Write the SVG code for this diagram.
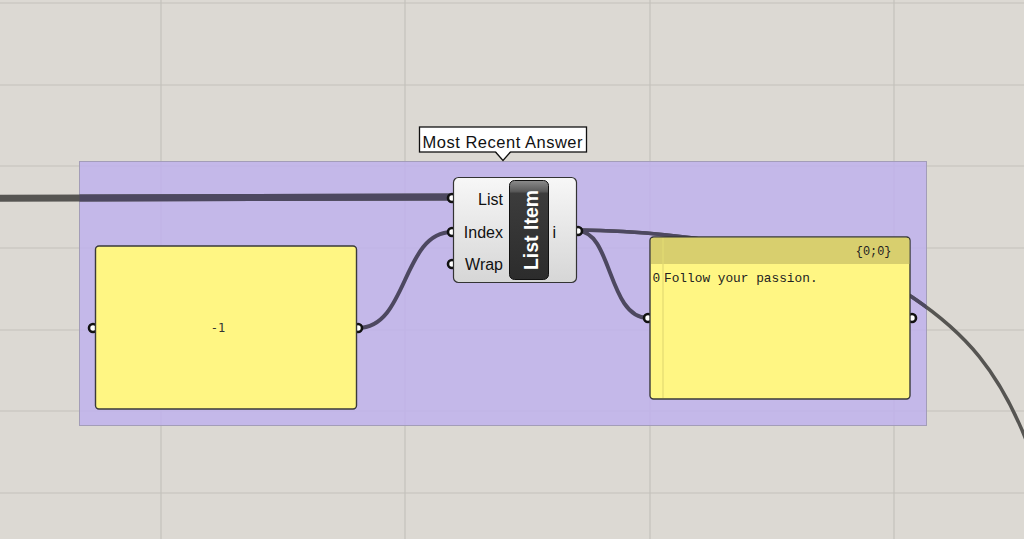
<svg xmlns="http://www.w3.org/2000/svg" width="1024" height="539" viewBox="0 0 1024 539">
<style>
.grid{stroke:#c4c1bc;stroke-width:1.2;fill:none}
.wire{fill:none;stroke:#565552;stroke-linecap:butt}
.wirein{fill:none;stroke:#4d4860;stroke-linecap:butt}
.port{fill:#ffffff;stroke:#111111;stroke-width:2.6}
.panel{fill:#fff683;stroke:#3a3a3a;stroke-width:1.4}
.lbl{font-family:"Liberation Sans",Arial,sans-serif;font-size:16px;fill:#111}
.mono{font-family:"Liberation Mono","Courier New",monospace;fill:#222}
</style>
<defs>
<linearGradient id="body" x1="0" y1="0" x2="0" y2="1">
<stop offset="0" stop-color="#f7f7f7"/>
<stop offset="1" stop-color="#d6d6d6"/>
</linearGradient>
<linearGradient id="cap" x1="0" y1="0" x2="0" y2="1">
<stop offset="0" stop-color="#8c8c8c"/>
<stop offset="0.11" stop-color="#5a5a5a"/>
<stop offset="0.13" stop-color="#3c3c3c"/>
<stop offset="1" stop-color="#2c2c2c"/>
</linearGradient>
<clipPath id="grpclip"><rect x="79.5" y="161.5" width="847" height="264"/></clipPath>
</defs>
<rect width="1024" height="539" fill="#dcd9d3"/>
<g id="grid" class="grid">
<line x1="161" y1="0" x2="161" y2="539"/>
<line x1="405" y1="0" x2="405" y2="539"/>
<line x1="650" y1="0" x2="650" y2="539"/>
<line x1="894" y1="0" x2="894" y2="539"/>
<line x1="0" y1="3" x2="1024" y2="3"/>
<line x1="0" y1="85" x2="1024" y2="85"/>
<line x1="0" y1="166" x2="1024" y2="166"/>
<line x1="0" y1="248" x2="1024" y2="248"/>
<line x1="0" y1="330" x2="1024" y2="330"/>
<line x1="0" y1="411" x2="1024" y2="411"/>
<line x1="0" y1="493" x2="1024" y2="493"/>
</g>
<g id="group">
<rect x="79.5" y="161.5" width="847" height="264" fill="rgb(192,178,236)" fill-opacity="0.85" stroke="#a39db8" stroke-width="1"/>
</g>
<g id="connectors">
<path class="wire" d="M0,198.3 L452,197" stroke-width="7"/>
<path class="wirein" clip-path="url(#grpclip)" d="M0,198.3 L452,197" stroke-width="7"/>
<path class="wire" d="M578,230 C700,231 860,262 912,297 S1000,370 1030,450" stroke-width="3.5"/>
<path class="wirein" clip-path="url(#grpclip)" d="M578,230 C700,231 860,262 912,297 S1000,370 1030,450" stroke-width="3.5"/>
<path class="wirein" d="M358,328 C408,328 402,232 452,232" stroke-width="4"/>
<path class="wirein" d="M578,231 C612,231 608,318 648,318" stroke-width="4"/>
</g>
<g id="panel-minus1">
<circle class="port" cx="93" cy="328" r="4"/>
<circle class="port" cx="358" cy="328" r="4"/>
<rect class="panel" x="95.5" y="246" width="261" height="163" rx="3.5"/>
<text x="218" y="332" text-anchor="middle" font-family="'DejaVu Sans Mono',monospace" font-size="12" fill="#333">-1</text>
</g>
<g id="list-item">
<circle class="port" cx="452" cy="198" r="4"/>
<circle class="port" cx="452" cy="232" r="4"/>
<circle class="port" cx="452" cy="264" r="4"/>
<circle class="port" cx="578" cy="231" r="4"/>
<rect x="453.5" y="177.5" width="123" height="105" rx="5" fill="url(#body)" stroke="#333" stroke-width="1.2"/>
<rect x="509.5" y="180.5" width="39" height="99" rx="5" fill="url(#cap)" stroke="#111" stroke-width="1"/>
<text class="lbl" x="503" y="205" text-anchor="end">List</text>
<text class="lbl" x="503" y="238" text-anchor="end">Index</text>
<text class="lbl" x="503" y="270" text-anchor="end">Wrap</text>
<text class="lbl" x="552.5" y="238">i</text>
<text transform="translate(537.5,230) rotate(-90)" text-anchor="middle" font-family="'Liberation Sans',Arial,sans-serif" font-weight="bold" font-size="19.5" fill="#ffffff">List Item</text>
</g>
<g id="panel-passion">
<circle class="port" cx="648" cy="318" r="4"/>
<circle class="port" cx="912" cy="318" r="4"/>
<rect class="panel" x="650" y="237" width="260" height="162" rx="3.5"/>
<path d="M651,264 L651,240.5 Q651,237.7 654,237.7 L906,237.7 Q909.3,237.7 909.3,240.5 L909.3,264 Z" fill="#d8cf6e"/>
<line x1="663" y1="238" x2="663" y2="398" stroke="#e3da72" stroke-width="1.2"/>
<text class="mono" x="891.5" y="255" text-anchor="end" font-size="11.9">{0;0}</text>
<text class="mono" x="652.5" y="282" font-size="12.8">0</text>
<text class="mono" x="664" y="282" font-size="12.8">Follow your passion.</text>
</g>
<g id="tooltip">
<rect x="419.5" y="127" width="167" height="25" fill="#ffffff" stroke="#111" stroke-width="1.3"/>
<polygon points="495.5,151 503,160.5 510.5,151" fill="#ffffff"/>
<polyline points="495.5,152 503,160.5 510.5,152" fill="none" stroke="#111" stroke-width="1.3"/>
<text x="422.5" y="147.5" font-family="'Liberation Sans',Arial,sans-serif" font-size="16.5" textLength="160" fill="#111">Most Recent Answer</text>
</g>
</svg>
